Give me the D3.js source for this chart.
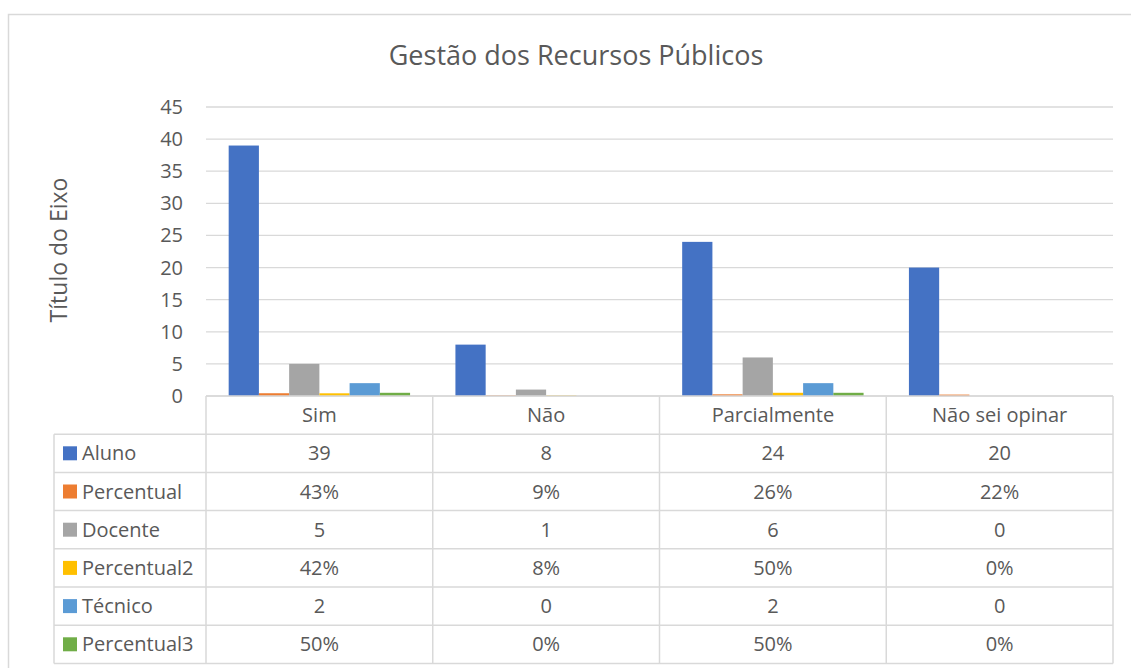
<!DOCTYPE html>
<html>
<head>
<meta charset="utf-8">
<script src="https://cdn.jsdelivr.net/npm/d3@7"></script>
<style>
  body { margin: 0; background: #fff; }
  svg text { font-family: "Open Sans", sans-serif; fill: #595959; }
</style>
</head>
<body>
<div id="chart"></div>
<script>
// chart data
const categories = ["Sim", "Não", "Parcialmente", "Não sei opinar"];
const seriesNames = ["Aluno", "Percentual", "Docente", "Percentual2", "Técnico", "Percentual3"];
const seriesColors = ["#4472C4", "#ED7D31", "#A5A5A5", "#FFC000", "#5B9BD5", "#70AD47"];
const aluno = [39, 8, 24, 20];
const percentual = [0.43, 0.09, 0.26, 0.22];
const docente = [5, 1, 6, 0];
const percentual2 = [0.42, 0.08, 0.50, 0];
const tecnico = [2, 0, 2, 0];
const percentual3 = [0.50, 0, 0.50, 0];
const yTicks = [0, 5, 10, 15, 20, 25, 30, 35, 40, 45];

const seriesValues = [aluno, percentual, docente, percentual2, tecnico, percentual3];
const isPercent = [false, true, false, true, false, true];

const W = 1131, H = 668;
const grid = "#D9D9D9";
const labelSize = "20px";

const svg = d3.select("#chart").append("svg")
    .attr("width", W)
    .attr("height", H);

// outer chart border
svg.append("rect")
    .attr("x", 8.5).attr("y", 14.5)
    .attr("width", W + 20).attr("height", H + 20)
    .attr("fill", "none")
    .attr("stroke", grid)
    .attr("stroke-width", 1.5);

// title
svg.append("text")
    .attr("x", 576).attr("y", 65)
    .attr("text-anchor", "middle")
    .style("font-size", "27px")
    .text("Gestão dos Recursos Públicos");

// scales
const x = d3.scaleBand()
    .domain(categories)
    .range([206, 1113]);

const xInner = d3.scaleBand()
    .domain(seriesNames)
    .range([0, x.bandwidth()])
    .paddingInner(0)
    .paddingOuter(0.75);

const y = d3.scaleLinear()
    .domain([0, 45])
    .range([396, 107]);

// gridlines
svg.append("g")
    .selectAll("line")
    .data(yTicks)
    .join("line")
    .attr("x1", 206).attr("x2", 1113)
    .attr("y1", d => y(d)).attr("y2", d => y(d))
    .attr("stroke", grid)
    .attr("stroke-width", 1.3);

// y tick labels
svg.append("g")
    .selectAll("text")
    .data(yTicks)
    .join("text")
    .attr("x", 183)
    .attr("y", d => y(d))
    .attr("dy", "0.35em")
    .attr("text-anchor", "end")
    .style("font-size", labelSize)
    .text(d => d);

// y axis title
svg.append("text")
    .attr("transform", "translate(67,250) rotate(-90)")
    .attr("text-anchor", "middle")
    .style("font-size", "23px")
    .text("Título do Eixo");

// bars, group per category
const barData = [];
categories.forEach((c, ci) => {
    seriesNames.forEach((s, si) => {
        barData.push({cat: c, series: s, color: seriesColors[si], value: seriesValues[si][ci]});
    });
});

svg.append("g")
    .selectAll("rect")
    .data(barData)
    .join("rect")
    .attr("x", d => x(d.cat) + xInner(d.series))
    .attr("width", xInner.bandwidth())
    .attr("y", d => y(d.value))
    .attr("height", d => y(0) - y(d.value))
    .attr("fill", d => d.color);

// data table
const rowH = 38.2;
const tableTop = 396;
const tableLeft = 54, tableRight = 1113;
const nRows = seriesNames.length;

const table = svg.append("g");

// horizontal lines (header row starts at plot axis, spanning category columns)
table.append("line")
    .attr("x1", 206).attr("x2", tableRight)
    .attr("y1", tableTop).attr("y2", tableTop)
    .attr("stroke", grid).attr("stroke-width", 1.5);

d3.range(1, nRows + 2).forEach(i => {
    table.append("line")
        .attr("x1", tableLeft).attr("x2", tableRight)
        .attr("y1", tableTop + i * rowH).attr("y2", tableTop + i * rowH)
        .attr("stroke", grid).attr("stroke-width", 1.5);
});

// vertical lines
table.append("line")
    .attr("x1", tableLeft).attr("x2", tableLeft)
    .attr("y1", tableTop + rowH).attr("y2", tableTop + rowH * (nRows + 1))
    .attr("stroke", grid).attr("stroke-width", 1.5);

const colEdges = categories.map(c => x(c)).concat([x(categories[categories.length - 1]) + x.bandwidth()]);
table.selectAll(".vline")
    .data(colEdges)
    .join("line")
    .attr("class", "vline")
    .attr("x1", d => d).attr("x2", d => d)
    .attr("y1", tableTop).attr("y2", tableTop + rowH * (nRows + 1))
    .attr("stroke", grid).attr("stroke-width", 1.5);

// category header labels
table.selectAll(".cat")
    .data(categories)
    .join("text")
    .attr("class", "cat")
    .attr("x", d => x(d) + x.bandwidth() / 2)
    .attr("y", tableTop + rowH / 2)
    .attr("dy", "0.35em")
    .attr("text-anchor", "middle")
    .style("font-size", labelSize)
    .text(d => d);

// rows
seriesNames.forEach((s, si) => {
    const cy = tableTop + rowH * (si + 1) + rowH / 2;
    table.append("rect")
        .attr("x", 63).attr("y", cy - 7)
        .attr("width", 14).attr("height", 14)
        .attr("fill", seriesColors[si]);
    table.append("text")
        .attr("x", 82).attr("y", cy)
        .attr("dy", "0.35em")
        .style("font-size", labelSize)
        .text(s);
    categories.forEach((c, ci) => {
        const v = seriesValues[si][ci];
        table.append("text")
            .attr("x", x(c) + x.bandwidth() / 2)
            .attr("y", cy)
            .attr("dy", "0.35em")
            .attr("text-anchor", "middle")
            .style("font-size", labelSize)
            .text(isPercent[si] ? d3.format(".0%")(v) : v);
    });
});
</script>
</body>
</html>
